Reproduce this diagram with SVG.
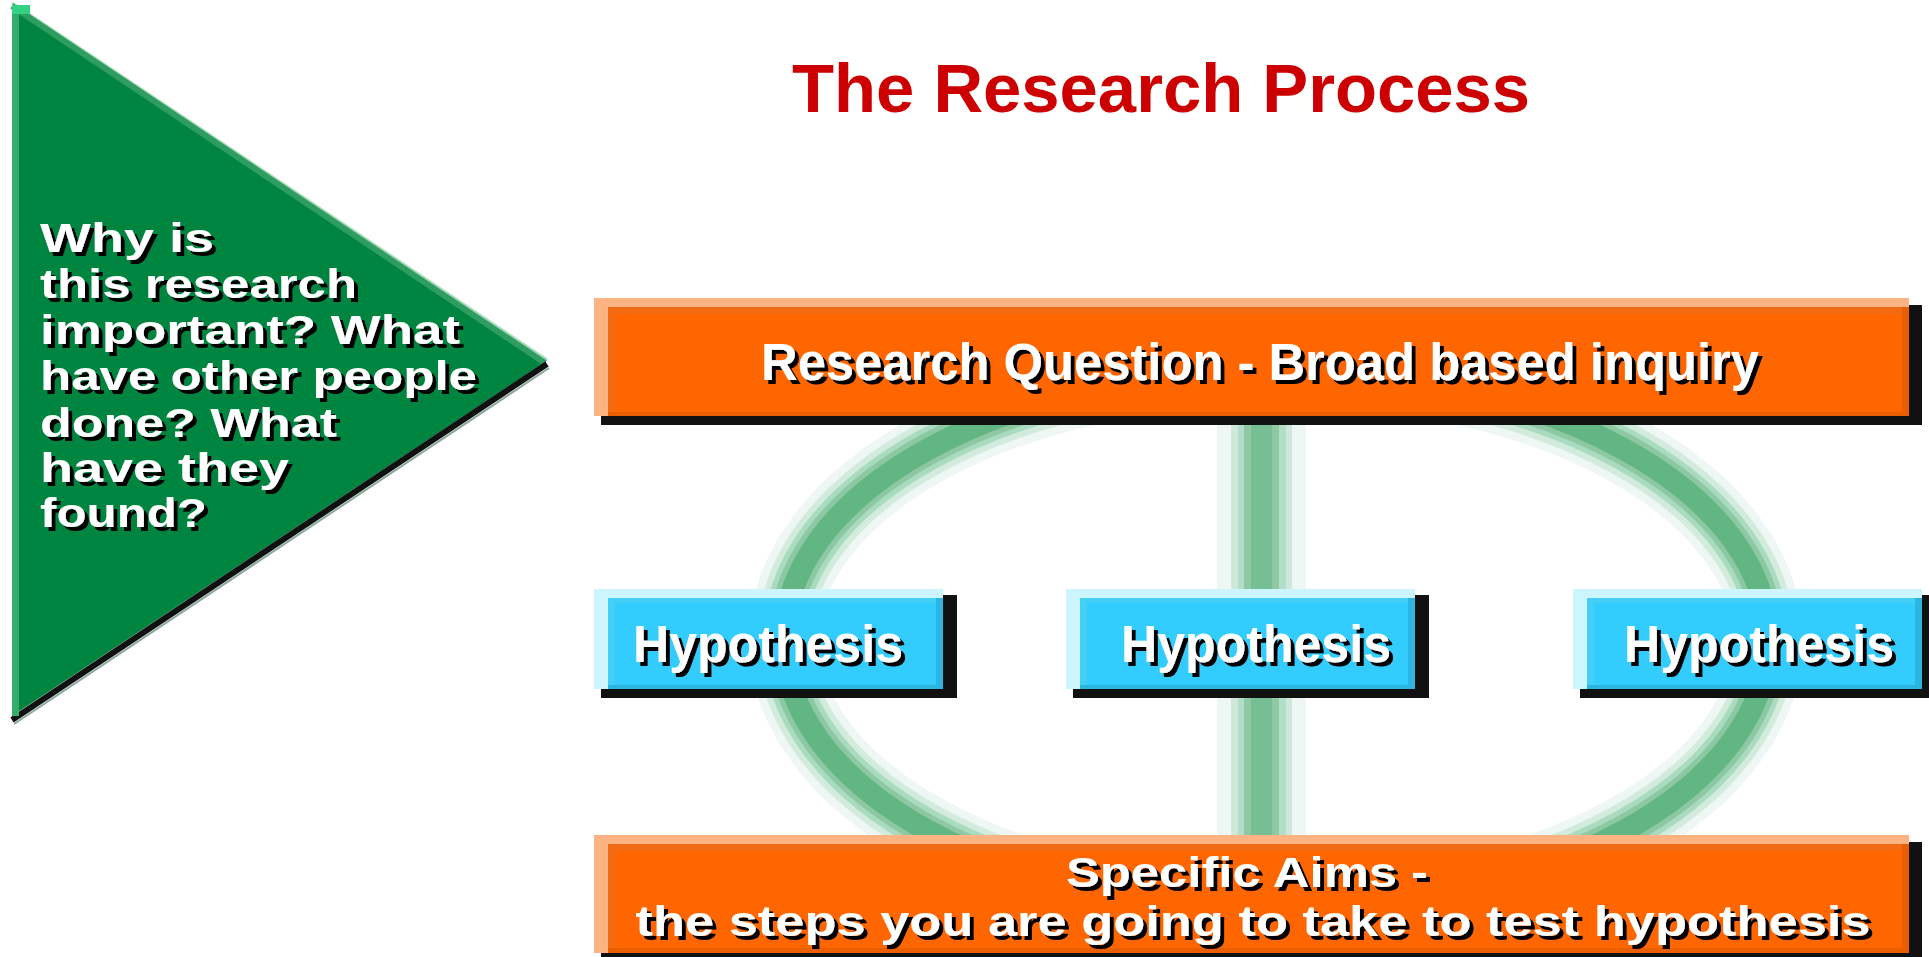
<svg xmlns="http://www.w3.org/2000/svg" width="1929" height="957" viewBox="0 0 1929 957">
<style>
.t{font-family:"Liberation Sans",Arial,sans-serif;font-weight:bold}
.w{fill:#ffffff;filter:url(#sh)}
.peach{fill:#fdb482}
.orng{fill:#ff6600}
.ostrip{fill:#e85e00}
.shadow{fill:#111111}
.lcyan{fill:#cdf5fd}
.cyan{fill:#33ccff}
.cstrip{fill:#2cb5e0}
.cstrip2{fill:#44cff6}
.ring{fill:none}
</style>
<defs>
<filter id="sh" x="-5%" y="-20%" width="115%" height="150%">
<feDropShadow dx="4" dy="4" stdDeviation="0" flood-color="#000000" flood-opacity="1"/>
</filter>
</defs>
<rect width="1929" height="957" fill="#ffffff"/>

<g id="connectors">
<g id="ring">
<ellipse class="ring" cx="1276" cy="640" rx="492" ry="270" stroke="#eef7f4" stroke-width="70"/>
<ellipse class="ring" cx="1276" cy="640" rx="492" ry="270" stroke="#d2ebdd" stroke-width="54"/>
<ellipse class="ring" cx="1276" cy="640" rx="492" ry="270" stroke="#a8dbbf" stroke-width="42"/>
<ellipse class="ring" cx="1276" cy="640" rx="492" ry="270" stroke="#8ec8a3" stroke-width="32"/>
<ellipse class="ring" cx="1276" cy="640" rx="492" ry="270" stroke="#62b684" stroke-width="22"/>
</g>
<g id="bar">
<rect x="1217" y="420" width="89" height="420" fill="#eef7f4"/>
<rect x="1231" y="420" width="61" height="420" fill="#d0e8da"/>
<rect x="1238" y="420" width="48" height="420" fill="#b0dec8"/>
<rect x="1244" y="420" width="35" height="420" fill="#90c8a4"/>
<rect x="1251" y="420" width="21" height="420" fill="#76be94"/>
</g>
</g>

<g id="triangle">
<polygon points="12,5 545,362 12,716" fill="#008540"/>
<line x1="12" y1="3" x2="547" y2="360" stroke="#a6d9bb" stroke-width="3"/>
<line x1="12" y1="6" x2="545" y2="363" stroke="#2e9d5f" stroke-width="6"/>
<line x1="547" y1="364" x2="12" y2="720" stroke="#111111" stroke-width="6"/>
<line x1="549" y1="368" x2="14" y2="724" stroke="#8aa898" stroke-width="2"/>
<rect x="12" y="5" width="7" height="711" fill="#34ad6c"/>
<rect x="12" y="5" width="18" height="9" fill="#33d184"/>
<text class="t w" font-size="41" x="40" y="252" textLength="174" lengthAdjust="spacingAndGlyphs">Why is</text>
<text class="t w" font-size="41" x="40" y="298" textLength="317" lengthAdjust="spacingAndGlyphs">this research</text>
<text class="t w" font-size="41" x="40" y="344" textLength="420" lengthAdjust="spacingAndGlyphs">important? What</text>
<text class="t w" font-size="41" x="40" y="390" textLength="437" lengthAdjust="spacingAndGlyphs">have other people</text>
<text class="t w" font-size="41" x="40" y="437" textLength="297" lengthAdjust="spacingAndGlyphs">done? What</text>
<text class="t w" font-size="41" x="40" y="482" textLength="249" lengthAdjust="spacingAndGlyphs">have they</text>
<text class="t w" font-size="41" x="40" y="527" textLength="167" lengthAdjust="spacingAndGlyphs">found?</text>
</g>

<g id="title">
<text class="t" font-size="69" x="1161" y="112" text-anchor="middle" fill="#cc0000" textLength="738" lengthAdjust="spacingAndGlyphs">The Research Process</text>
</g>

<g id="research-question">
<rect class="shadow" x="601" y="305" width="1321" height="120"/>
<rect class="peach" x="594" y="298" width="1315" height="118"/>
<rect class="ostrip" x="608" y="307" width="1301" height="109"/>
<rect fill="#f26a12" x="608" y="307" width="1294" height="105"/>
<rect class="orng" x="615" y="314" width="1287" height="98"/>
<text class="t w" font-size="51" x="1260" y="380" text-anchor="middle" textLength="998" lengthAdjust="spacingAndGlyphs">Research Question - Broad based inquiry</text>
</g>

<g id="hypothesis-1">
<rect class="shadow" x="601" y="595" width="356" height="103"/>
<rect class="lcyan" x="594" y="589" width="349" height="100"/>
<rect class="cstrip" x="608" y="598" width="335" height="91"/>
<rect class="cstrip2" x="608" y="598" width="328" height="87"/>
<rect class="cyan" x="615" y="603" width="321" height="82"/>
<text class="t w" font-size="51" x="768" y="662" text-anchor="middle" textLength="270" lengthAdjust="spacingAndGlyphs">Hypothesis</text>
</g>

<g id="hypothesis-2">
<rect class="shadow" x="1073" y="595" width="356" height="103"/>
<rect class="lcyan" x="1066" y="589" width="349" height="100"/>
<rect class="cstrip" x="1080" y="598" width="335" height="91"/>
<rect class="cstrip2" x="1080" y="598" width="328" height="87"/>
<rect class="cyan" x="1087" y="603" width="321" height="82"/>
<text class="t w" font-size="51" x="1256" y="662" text-anchor="middle" textLength="270" lengthAdjust="spacingAndGlyphs">Hypothesis</text>
</g>

<g id="hypothesis-3">
<rect class="shadow" x="1580" y="595" width="356" height="103"/>
<rect class="lcyan" x="1573" y="589" width="349" height="100"/>
<rect class="cstrip" x="1587" y="598" width="335" height="91"/>
<rect class="cstrip2" x="1587" y="598" width="328" height="87"/>
<rect class="cyan" x="1594" y="603" width="321" height="82"/>
<text class="t w" font-size="51" x="1759" y="662" text-anchor="middle" textLength="270" lengthAdjust="spacingAndGlyphs">Hypothesis</text>
</g>

<g id="specific-aims">
<rect class="shadow" x="601" y="842" width="1321" height="120"/>
<rect class="peach" x="594" y="835" width="1315" height="118"/>
<rect class="ostrip" x="608" y="844" width="1301" height="109"/>
<rect fill="#f26a12" x="608" y="844" width="1294" height="104"/>
<rect class="orng" x="615" y="851" width="1287" height="97"/>
<text class="t w" font-size="43" x="1247" y="887" text-anchor="middle" textLength="362" lengthAdjust="spacingAndGlyphs">Specific Aims -</text>
<text class="t w" font-size="43" x="1253" y="936" text-anchor="middle" textLength="1235" lengthAdjust="spacingAndGlyphs">the steps you are going to take to test hypothesis</text>
</g>
</svg>
